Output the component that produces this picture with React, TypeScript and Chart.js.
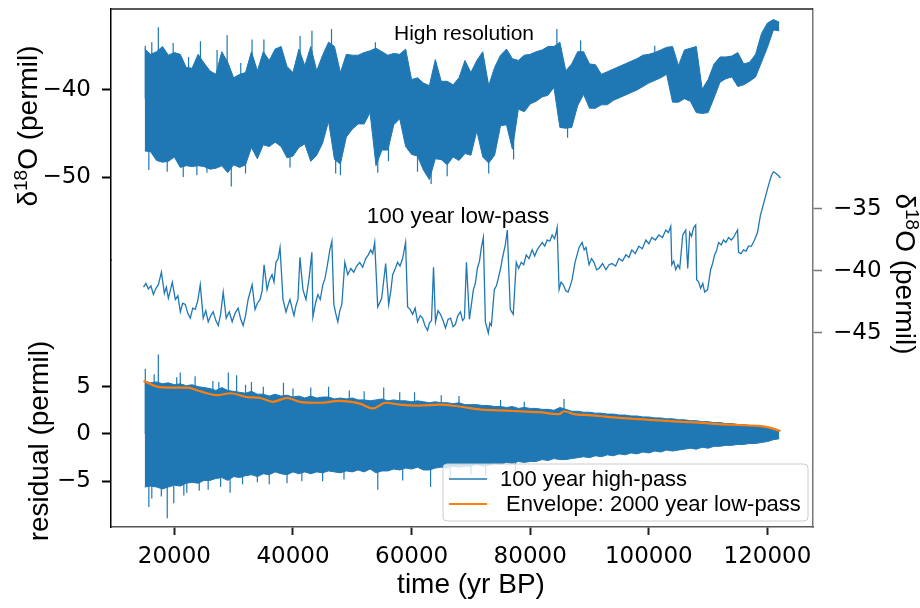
import React, { useEffect, useRef } from 'react';
import { Chart, registerables } from 'chart.js';

Chart.register(...registerables);

const BLUE = '#1f77b4';
const ORANGE = '#ff7f0e';

// ---- data ----
// binned envelopes of the dense records: one value per 1000-year bin, starting at 15000 yr BP
const binStartYear = 15000;
const binStepYears = 1000;

const hiResUpper = [
  -35.3, -35.9, -35.6, -35.0, -36.0, -35.7, -35.9, -37.4, -37.5, -35.9,
  -36.9, -37.8, -38.2, -35.6, -36.8, -38.6, -38.2, -38.0, -35.6, -37.8,
  -35.6, -36.6, -35.3, -35.0, -37.3, -38.0, -35.3, -37.2, -35.0, -37.8,
  -36.0, -34.5, -35.0, -38.0, -35.9, -36.0, -36.0, -35.7, -35.5, -35.2,
  -35.6, -36.0, -35.8, -35.9, -35.3, -38.8, -38.6, -39.2, -39.5, -36.5,
  -39.0, -39.0, -39.4, -38.6, -36.6, -38.0, -36.6, -35.6, -39.5, -37.4,
  -36.0, -35.3, -36.4, -36.6, -36.0, -35.9, -35.6, -35.4, -35.0, -35.0,
  -34.5, -37.8, -37.0, -35.6, -35.6, -37.0, -37.1, -38.2, -37.9, -37.6,
  -37.3, -37.0, -36.7, -36.4, -36.0, -35.9, -35.7, -35.4, -35.1, -35.0,
  -37.2, -35.4, -35.2, -35.0, -39.9, -38.8, -37.0, -36.2, -36.2, -36.1,
  -35.7, -37.0, -36.8, -35.9, -33.5, -32.3, -31.9, -32.2,
];
const hiResLower = [
  -47.0, -47.1, -48.1, -48.3, -48.2, -47.7, -48.9, -48.7, -48.8, -48.7,
  -48.8, -49.1, -49.0, -48.7, -49.5, -48.6, -48.9, -48.6, -46.6, -47.9,
  -46.3, -46.5, -46.0, -46.5, -47.8, -47.6, -46.6, -46.2, -48.2, -47.5,
  -46.1, -43.6, -48.0, -48.5, -45.4, -44.5, -43.9, -43.9, -42.6, -48.7,
  -46.9, -46.9, -44.0, -43.3, -46.5, -47.4, -47.6, -49.2, -50.3, -47.9,
  -48.0, -48.6, -47.7, -48.1, -47.3, -47.5, -44.7, -47.7, -48.4, -47.5,
  -44.1, -44.0, -46.8, -42.2, -42.5, -41.6, -41.3, -40.8, -40.6, -39.7,
  -44.3, -44.4, -44.3, -41.8, -40.5, -42.1, -42.1, -41.7, -41.7, -41.2,
  -40.9, -40.6, -40.3, -40.0, -39.6, -39.2, -38.9, -38.6, -38.2, -41.4,
  -41.4, -41.0, -41.3, -42.6, -42.7, -42.6, -40.9, -39.1, -38.7, -38.5,
  -39.6, -39.4, -39.0, -38.5, -36.8, -35.1, -33.1, -33.2,
];
// isolated spikes of the high-resolution record: year, tip, point inside the band
const hiResSpikeYears = [
  15100, 15700, 16200, 17300, 18800, 19800, 21500, 22400, 23800, 24400, 25500, 27200,
  28900, 29600, 31200, 32000, 33100, 35100, 39500, 41200, 43200, 46500, 47200, 48000,
  53900, 54300, 56100, 61000, 63300, 66000, 73000, 77200, 84500, 86300, 88500, 101000,
];
const hiResSpikeTips = [
  -34.9, -49.2, -34.5, -32.8, -49.4, -34.6, -50.0, -36.2, -49.8, -34.4, -49.5, -35.4,
  -33.7, -51.1, -36.9, -49.6, -34.2, -34.2, -48.9, -33.8, -33.2, -33.0, -49.6, -49.8,
  -34.5, -49.5, -48.2, -49.4, -50.8, -49.9, -49.6, -48.0, -33.0, -45.5, -34.3, -34.9,
];
const hiResSpikeBases = [
  -41.0, -41.0, -41.0, -41.0, -41.0, -41.0, -43.0, -42.0, -43.0, -41.0, -41.0, -41.0,
  -41.0, -41.0, -42.0, -43.0, -41.0, -40.0, -43.0, -40.0, -40.0, -39.0, -44.0, -44.0,
  -39.0, -42.0, -42.0, -44.0, -44.0, -44.0, -45.0, -43.0, -38.0, -41.0, -38.0, -37.0,
];

const residualUpper = [
  5.6, 5.4, 5.5, 5.3, 5.4, 5.2, 5.3, 5.1, 5.2, 5.0,
  4.9, 4.8, 4.6, 4.9, 4.6, 4.5, 4.4, 4.3, 4.5, 4.2,
  4.2, 4.0, 4.2, 4.0, 4.1, 3.9, 4.0, 3.8, 4.0, 3.8,
  3.9, 3.9, 3.7, 3.8, 3.7, 3.8, 3.6, 3.6, 3.5, 3.6,
  3.7, 3.5, 3.6, 3.5, 3.5, 3.4, 3.5, 3.4, 3.3, 3.4,
  3.3, 3.3, 3.2, 3.3, 3.1, 3.1, 3.1, 3.0, 3.0, 2.9,
  2.9, 2.8, 2.9, 2.7, 2.8, 2.7, 2.7, 2.6, 2.6, 2.5,
  2.8, 2.6, 2.4, 2.4, 2.3, 2.3, 2.2, 2.2, 2.1, 2.1,
  2.0, 2.0, 1.9, 1.9, 1.8, 1.8, 1.7, 1.7, 1.6, 1.6,
  1.5, 1.5, 1.4, 1.4, 1.3, 1.3, 1.2, 1.2, 1.1, 1.1,
  1.0, 1.0, 0.9, 0.9, 0.8, 0.7, 0.6, 0.4,
];
const residualLower = [
  -5.6, -5.5, -5.6, -5.8, -5.6, -5.4, -5.5, -5.2, -5.1, -5.2,
  -4.9, -4.9, -4.7, -4.6, -4.9, -4.5, -4.6, -4.4, -4.3, -4.5,
  -4.2, -4.3, -4.0, -4.2, -4.3, -4.0, -4.2, -4.0, -4.2, -4.0,
  -4.1, -3.9, -4.0, -4.1, -3.9, -4.0, -3.8, -4.0, -3.7, -4.1,
  -3.9, -3.9, -3.7, -3.8, -3.6, -3.7, -3.5, -3.8, -3.8, -3.6,
  -3.5, -3.6, -3.4, -3.5, -3.4, -3.4, -3.2, -3.4, -3.3, -3.1,
  -3.2, -3.0, -3.1, -2.9, -3.0, -2.9, -2.9, -2.7, -2.8, -2.6,
  -2.7, -2.7, -2.6, -2.5, -2.4, -2.5, -2.3, -2.4, -2.2, -2.3,
  -2.1, -2.2, -2.0, -2.1, -1.9, -2.0, -1.8, -1.9, -1.7, -1.8,
  -1.7, -1.6, -1.5, -1.6, -1.4, -1.5, -1.3, -1.3, -1.2, -1.2,
  -1.1, -1.1, -1.0, -1.0, -0.9, -0.8, -0.6, -0.5,
];
// isolated spikes of the 100 year high-pass record (drawn from zero to the tip)
const residualSpikeYears = [
  15100, 15700, 16200, 16600, 17300, 17800, 18800, 19900, 20400, 21000, 21600, 22100,
  23500, 24200, 25700, 26500, 27500, 27800, 29100, 29400, 30500, 31500, 32000, 33000,
  34000, 35000, 36000, 38400, 39000, 40000, 41500, 43000, 45000, 46000, 48600, 49500,
  52000, 54300, 55300, 58000, 58500, 60500, 63200, 65000, 66500, 68000, 70000, 72500,
  75000, 77500, 79000, 85700,
];
const residualSpikeTips = [
  6.9, -7.7, -6.8, 6.3, 8.4, -6.6, -8.9, -7.3, 6.0, 6.5, -6.5, -6.2,
  6.1, -6.0, -5.9, 5.6, 5.5, -5.6, 6.5, -6.2, 6.2, -5.3, 5.2, 5.5,
  -5.1, 5.0, -5.3, 5.4, -5.2, 4.8, -5.0, 4.9, -5.0, 5.0, -4.8, 4.6,
  4.5, -5.9, 4.9, 4.4, -4.9, 4.4, -5.6, 4.1, -4.6, 4.0, -4.3, -4.4,
  3.6, -3.9, 3.4, 3.7,
];

// 100 year low-pass record: [year BP, permil]
const lowPassSeries = [
  [14800, -41.3], [15200, -41.0], [15630, -41.45], [16050, -41.2], [16470, -41.9], [16900, -41.4],
  [17310, -41.1], [17820, -40.1], [18320, -41.8], [18650, -41.3], [18990, -42.2], [19300, -41.6],
  [19660, -40.9], [20170, -42.3], [20600, -42.0], [21010, -43.3], [21400, -42.6], [21850, -42.7],
  [22250, -43.4], [22690, -43.8], [23100, -43.0], [23530, -43.1], [23950, -42.4], [24370, -41.1],
  [24870, -43.8], [25300, -43.2], [25710, -44.1], [26150, -43.6], [26550, -43.3], [27000, -44.0],
  [27400, -44.4], [27800, -43.5], [28240, -41.7], [28740, -43.8], [29250, -43.3], [29750, -44.1],
  [30250, -43.4], [30760, -43.0], [31200, -43.9], [31600, -44.4], [32000, -43.6], [32440, -42.3],
  [33110, -41.1], [33610, -43.1], [34000, -42.6], [34450, -42.3], [34800, -41.6], [35130, -39.5],
  [35630, -41.5], [36050, -40.7], [36470, -40.3], [36800, -40.9], [37140, -39.3], [37500, -39.0],
  [37820, -38.1], [38320, -42.3], [38820, -43.3], [39200, -42.7], [39500, -42.3], [39850, -43.0],
  [40170, -43.6], [40500, -42.8], [40840, -42.3], [41180, -38.9], [41680, -41.5], [42190, -42.3],
  [42690, -40.7], [43190, -38.5], [43360, -43.7], [43800, -42.6], [44200, -41.9], [44600, -42.3],
  [45040, -41.1], [45400, -40.6], [45710, -39.8], [46220, -38.3], [46560, -37.6], [46890, -42.7],
  [47200, -43.4], [47560, -44.1], [47900, -43.2], [48240, -42.7], [48740, -39.3], [49240, -40.3],
  [49750, -39.8], [50250, -40.1], [50750, -39.6], [51260, -39.3], [51750, -39.7], [52270, -39.0],
  [52700, -38.7], [53110, -38.3], [53450, -38.6], [53780, -37.7], [54290, -42.9], [54960, -42.2],
  [55630, -39.4], [56140, -42.7], [56500, -41.6], [56810, -40.3], [57250, -39.8], [57650, -39.3],
  [58050, -39.6], [58490, -39.0], [58990, -37.7], [59330, -42.9], [59750, -43.1], [60170, -43.5],
  [60600, -43.0], [61010, -44.1], [61450, -43.6], [61850, -43.8], [62250, -44.4], [62690, -44.8],
  [63000, -44.2], [63360, -44.0], [63700, -39.7], [64030, -44.1], [64450, -43.2], [64870, -43.5],
  [65300, -44.0], [65720, -44.6], [66150, -43.9], [66560, -43.8], [67000, -44.5], [67400, -44.3],
  [67800, -43.6], [68240, -43.3], [68600, -44.0], [68910, -43.8], [69250, -39.3], [69750, -43.9],
  [70420, -41.5], [70750, -41.0], [71090, -39.8], [71450, -39.2], [71770, -38.1], [72100, -37.3],
  [72440, -44.1], [72940, -45.0], [73200, -44.2], [73450, -44.4], [73950, -41.5], [74300, -41.2],
  [74620, -40.6], [75000, -39.8], [75300, -39.0], [75800, -37.9], [76140, -36.7], [76640, -43.1],
  [77140, -43.5], [77650, -39.3], [78050, -39.8], [78490, -39.3], [78900, -39.5], [79330, -38.7],
  [79800, -39.0], [80330, -38.3], [80750, -38.8], [81170, -38.3], [81600, -38.0], [82020, -37.7],
  [82450, -38.0], [82860, -37.5], [83300, -37.6], [83700, -37.1], [84100, -37.4], [84370, -36.9],
  [84540, -36.5], [84870, -41.5], [85200, -40.9], [85550, -41.1], [86000, -41.6], [86390, -41.7],
  [86750, -41.2], [87060, -40.7], [87560, -39.3], [88240, -38.1], [88740, -37.7], [89100, -38.3],
  [89410, -38.1], [89920, -39.5], [90350, -39.0], [90760, -39.3], [91200, -39.9], [91600, -39.8],
  [92200, -39.4], [92770, -39.9], [93300, -39.5], [93780, -39.4], [94400, -39.6], [94960, -39.0],
  [95550, -39.2], [96140, -38.7], [96650, -38.9], [97140, -38.3], [97700, -38.6], [98320, -38.0],
  [98900, -38.2], [99500, -37.5], [100000, -37.8], [100510, -37.3], [101100, -37.5], [101690, -37.1],
  [102300, -37.3], [102860, -36.7], [103300, -36.9], [103700, -36.4], [103870, -39.5], [104200, -39.2],
  [104540, -39.9], [104900, -39.5], [105210, -39.8], [105720, -37.1], [106220, -36.7], [106560, -39.8],
  [106890, -36.9], [107200, -37.2], [107560, -36.5], [107900, -36.3], [108070, -40.7], [108400, -40.9],
  [108740, -41.4], [109100, -41.0], [109410, -41.7], [109910, -41.5], [110420, -39.9], [110750, -39.4],
  [111090, -38.7], [111400, -38.4], [111760, -37.7], [112200, -37.9], [112600, -37.5], [113000, -37.7],
  [113450, -37.3], [113900, -37.5], [114290, -37.3], [114600, -37.0], [114960, -36.7], [115130, -38.5],
  [115550, -38.6], [115970, -38.3], [116400, -38.4], [116810, -38.0], [117300, -38.0], [117820, -37.5],
  [118320, -36.9], [118820, -35.5], [119500, -34.3], [120170, -33.1], [120670, -32.3], [121000, -32.0],
  [121350, -32.1], [121850, -32.3], [122190, -32.5],
];

// envelope: 2000 year low-pass of the residual amplitude
const envelopeYears = [
  14800, 17100, 19500, 22200, 24400, 27200, 29400, 32300, 34500, 36600,
  39000, 41200, 44500, 47900, 51300, 53500, 55600, 58000, 61300, 64700,
  68100, 71400, 74800, 78200, 81500, 84900, 85700, 87400, 89900, 91600,
  95000, 100000, 105000, 108400, 111800, 115100, 118500, 120500, 122200,
];
const envelopeValues = [
  5.6, 5.0, 4.9, 4.9, 4.5, 4.1, 4.3, 3.9, 3.8, 3.4,
  3.8, 3.4, 3.3, 3.5, 3.2, 2.7, 3.3, 3.1, 3.0, 3.1,
  2.9, 2.6, 2.5, 2.4, 2.3, 2.1, 2.4, 2.1, 2.0, 1.9,
  1.7, 1.5, 1.3, 1.2, 1.05, 0.95, 0.85, 0.65, 0.3,
];

const xTicks = [20000, 40000, 60000, 80000, 100000, 120000];
const topTicks = [-50, -40];
const midTicks = [-45, -40, -35];
const residualTicks = [-5, 0, 5];

const labelHighPass = '100 year high-pass';
const labelEnvelope = ' Envelope: 2000 year low-pass';
const labelHighRes = 'High resolution';
const labelLowPass = '100 year low-pass';
const labelTime = 'time (yr BP)';
const labelResidual = 'residual (permil)';

// ---- helpers ----
const SANS = "'Liberation Sans', Arial, Helvetica, sans-serif";
const tickFont = { family: "'DejaVu Sans', sans-serif", size: 23 };
const fmt = (v: number) => String(v).replace('-', '\u2212');
const setTicks = (vals: number[]) => (scale: any) => {
  scale.ticks = vals.map((v) => ({ value: v }));
};
const noPad = (s: any) => {
  s.paddingTop = 0;
  s.paddingBottom = 0;
  s.paddingLeft = 0;
  s.paddingRight = 0;
};
const fitWidth = (w: number) => (s: any) => { s.width = w; noPad(s); };
const fitHeight = (h: number) => (s: any) => { s.height = h; noPad(s); };

function drawDelta(ctx: CanvasRenderingContext2D, cx: number, cy: number, angle: number, size: number) {
  const big = `${size}px ${SANS}`;
  const small = `${Math.round(size * 0.68)}px ${SANS}`;
  const parts = [
    { t: '\u03b4', f: big, dy: 0 },
    { t: '18', f: small, dy: -size * 0.36 },
    { t: 'O (permil)', f: big, dy: 0 },
  ];
  ctx.save();
  ctx.translate(cx, cy);
  ctx.rotate(angle);
  ctx.textBaseline = 'alphabetic';
  ctx.textAlign = 'left';
  let total = 0;
  const widths = parts.map((p) => {
    ctx.font = p.f;
    const w = ctx.measureText(p.t).width;
    total += w;
    return w;
  });
  let x = -total / 2;
  const base = size * 0.36;
  parts.forEach((p, i) => {
    ctx.font = p.f;
    ctx.fillText(p.t, x, base + p.dy);
    x += widths[i];
  });
  ctx.restore();
}

function drawRotated(ctx: CanvasRenderingContext2D, text: string, cx: number, cy: number, angle: number, size: number) {
  ctx.save();
  ctx.translate(cx, cy);
  ctx.rotate(angle);
  ctx.font = `${size}px ${SANS}`;
  ctx.textAlign = 'center';
  ctx.textBaseline = 'middle';
  ctx.fillText(text, 0, 0);
  ctx.restore();
}

const decorPlugin = {
  id: 'decor',
  afterDraw(chart: any) {
    const ctx: CanvasRenderingContext2D = chart.ctx;
    const a = chart.chartArea;
    ctx.save();
    // top spine
    ctx.strokeStyle = '#222';
    ctx.lineWidth = 1.5;
    ctx.beginPath();
    ctx.moveTo(a.left, a.top);
    ctx.lineTo(a.right, a.top);
    ctx.stroke();

    ctx.fillStyle = '#000';
    // axis titles
    drawDelta(ctx, 27, 126, -Math.PI / 2, 28);
    drawDelta(ctx, 906, 274, Math.PI / 2, 28);
    drawRotated(ctx, labelResidual, 40, 441, -Math.PI / 2, 28);
    drawRotated(ctx, labelTime, 471, 585, 0, 28);

    // panel captions
    ctx.font = `21px ${SANS}`;
    ctx.textAlign = 'center';
    ctx.textBaseline = 'middle';
    ctx.fillText(labelHighRes, 464, 34);
    ctx.font = `22.5px ${SANS}`;
    ctx.fillText(labelLowPass, 458, 217);

    // legend
    const lx = 443, ly = 464, lw = 365, lh = 57, r = 4;
    ctx.beginPath();
    ctx.moveTo(lx + r, ly);
    ctx.arcTo(lx + lw, ly, lx + lw, ly + lh, r);
    ctx.arcTo(lx + lw, ly + lh, lx, ly + lh, r);
    ctx.arcTo(lx, ly + lh, lx, ly, r);
    ctx.arcTo(lx, ly, lx + lw, ly, r);
    ctx.closePath();
    ctx.fillStyle = 'rgba(255,255,255,0.8)';
    ctx.fill();
    ctx.strokeStyle = '#cccccc';
    ctx.lineWidth = 1;
    ctx.stroke();

    const entries = chart.data.datasets.filter((d: any) => d.inLegend);
    entries.sort((p: any, q: any) => p.legendRank - q.legendRank);
    entries.forEach((d: any, i: number) => {
      const y = 479 + i * 25;
      ctx.strokeStyle = d.borderColor;
      ctx.lineWidth = d.legendWidth;
      ctx.beginPath();
      ctx.moveTo(449, y);
      ctx.lineTo(487, y);
      ctx.stroke();
      ctx.fillStyle = '#000';
      ctx.font = `22px ${SANS}`;
      ctx.textAlign = 'left';
      ctx.textBaseline = 'middle';
      ctx.fillText(d.label, 500, y + 1);
    });
    ctx.restore();
  },
};

export default function App() {
  const ref = useRef<HTMLCanvasElement | null>(null);

  useEffect(() => {
    if (!ref.current) return;
    const binYears = hiResUpper.map((_, i) => binStartYear + i * binStepYears);
    const pts = (xs: number[], ys: number[]) => ys.map((y, i) => ({ x: xs[i], y }));
    const spikes = (xs: number[], tips: number[], bases: number[] | null) =>
      xs.flatMap((x, i) => [
        { x, y: bases ? bases[i] : 0 },
        { x, y: tips[i] },
        { x, y: null },
      ]);

    const base = { pointRadius: 0, pointHoverRadius: 0, tension: 0, borderColor: BLUE, spanGaps: false };

    const chart = new Chart(ref.current, {
      type: 'line',
      data: {
        datasets: [
          {
            ...base,
            label: labelEnvelope,
            data: pts(envelopeYears, envelopeValues),
            borderColor: ORANGE,
            borderWidth: 2.2,
            cubicInterpolationMode: 'monotone',
            yAxisID: 'yRes',
            order: 0,
            fill: false,
            inLegend: true,
            legendRank: 2,
            legendWidth: 2,
          },
          {
            ...base,
            label: labelHighPass,
            data: pts(binYears, residualUpper),
            borderWidth: 1,
            yAxisID: 'yRes',
            order: 1,
            fill: false,
            inLegend: true,
            legendRank: 1,
            legendWidth: 1.5,
          },
          {
            ...base,
            label: 'high-pass lower',
            data: pts(binYears, residualLower),
            borderWidth: 1,
            yAxisID: 'yRes',
            order: 1,
            fill: { target: '-1' },
            backgroundColor: BLUE,
          },
          {
            ...base,
            label: 'high-pass spikes',
            data: spikes(residualSpikeYears, residualSpikeTips, null),
            borderWidth: 1.2,
            yAxisID: 'yRes',
            order: 1,
            fill: false,
          },
          {
            ...base,
            label: labelLowPass,
            data: lowPassSeries.map(([x, y]) => ({ x, y })),
            borderWidth: 1.3,
            yAxisID: 'yMid',
            order: 1,
            fill: false,
          },
          {
            ...base,
            label: labelHighRes,
            data: pts(binYears, hiResUpper),
            borderWidth: 1,
            yAxisID: 'yTop',
            order: 1,
            fill: false,
          },
          {
            ...base,
            label: 'high resolution lower',
            data: pts(binYears, hiResLower),
            borderWidth: 1,
            yAxisID: 'yTop',
            order: 1,
            fill: { target: '-1' },
            backgroundColor: BLUE,
          },
          {
            ...base,
            label: 'high resolution spikes',
            data: spikes(hiResSpikeYears, hiResSpikeTips, hiResSpikeBases),
            borderWidth: 1.2,
            yAxisID: 'yTop',
            order: 1,
            fill: false,
          },
        ] as any,
      },
      options: {
        animation: false,
        responsive: false,
        events: [],
        layout: { padding: { top: 9, left: 0, right: 0, bottom: 0 } },
        plugins: { legend: { display: false }, tooltip: { enabled: false }, title: { display: false } },
        scales: {
          x: {
            type: 'linear',
            position: 'bottom',
            min: 9320,
            max: 127680,
            afterBuildTicks: setTicks(xTicks),
            afterFit: fitHeight(81),
            ticks: { font: tickFont, color: '#000', padding: 8, maxRotation: 0, autoSkip: false, callback: (v: any) => String(v) },
            grid: { drawOnChartArea: false, drawTicks: true, tickLength: 8, tickColor: '#222', tickWidth: 2 },
            border: { display: true, color: '#555', width: 1.5 },
          },
          yRes: {
            type: 'linear',
            position: 'left',
            stack: 'left',
            stackWeight: 267,
            min: -9.82,
            max: 18.37,
            afterBuildTicks: setTicks(residualTicks),
            afterFit: fitWidth(111),
            ticks: { font: tickFont, color: '#000', padding: 11, callback: (v: any) => fmt(v) },
            grid: { drawOnChartArea: false, drawTicks: true, tickLength: 9, tickColor: '#000', tickWidth: 2 },
            border: { display: true, color: '#000', width: 1.5 },
          },
          yTop: {
            type: 'linear',
            position: 'left',
            stack: 'left',
            stackWeight: 251,
            min: -59.54,
            max: -30.69,
            afterBuildTicks: setTicks(topTicks),
            afterFit: fitWidth(111),
            ticks: { font: tickFont, color: '#000', padding: 11, callback: (v: any) => fmt(v) },
            grid: { drawOnChartArea: false, drawTicks: true, tickLength: 9, tickColor: '#000', tickWidth: 2 },
            border: { display: true, color: '#000', width: 1.5 },
          },
          yMid: {
            type: 'linear',
            position: 'right',
            min: -60.65,
            max: -18.87,
            afterBuildTicks: setTicks(midTicks),
            afterFit: fitWidth(107),
            ticks: { font: tickFont, color: '#000', padding: 11, callback: (v: any) => fmt(v) },
            grid: { drawOnChartArea: false, drawTicks: true, tickLength: 9, tickColor: '#777', tickWidth: 1.5 },
            border: { display: true, color: '#777', width: 1.5 },
          },
        },
      } as any,
      plugins: [decorPlugin],
    });
    return () => chart.destroy();
  }, []);

  return (
    <div style={{ position: 'absolute', left: 0, top: 0, width: 920, height: 608, background: '#fff' }}>
      <canvas ref={ref} width={920} height={608} style={{ display: 'block', width: 920, height: 608 }} />
    </div>
  );
}
